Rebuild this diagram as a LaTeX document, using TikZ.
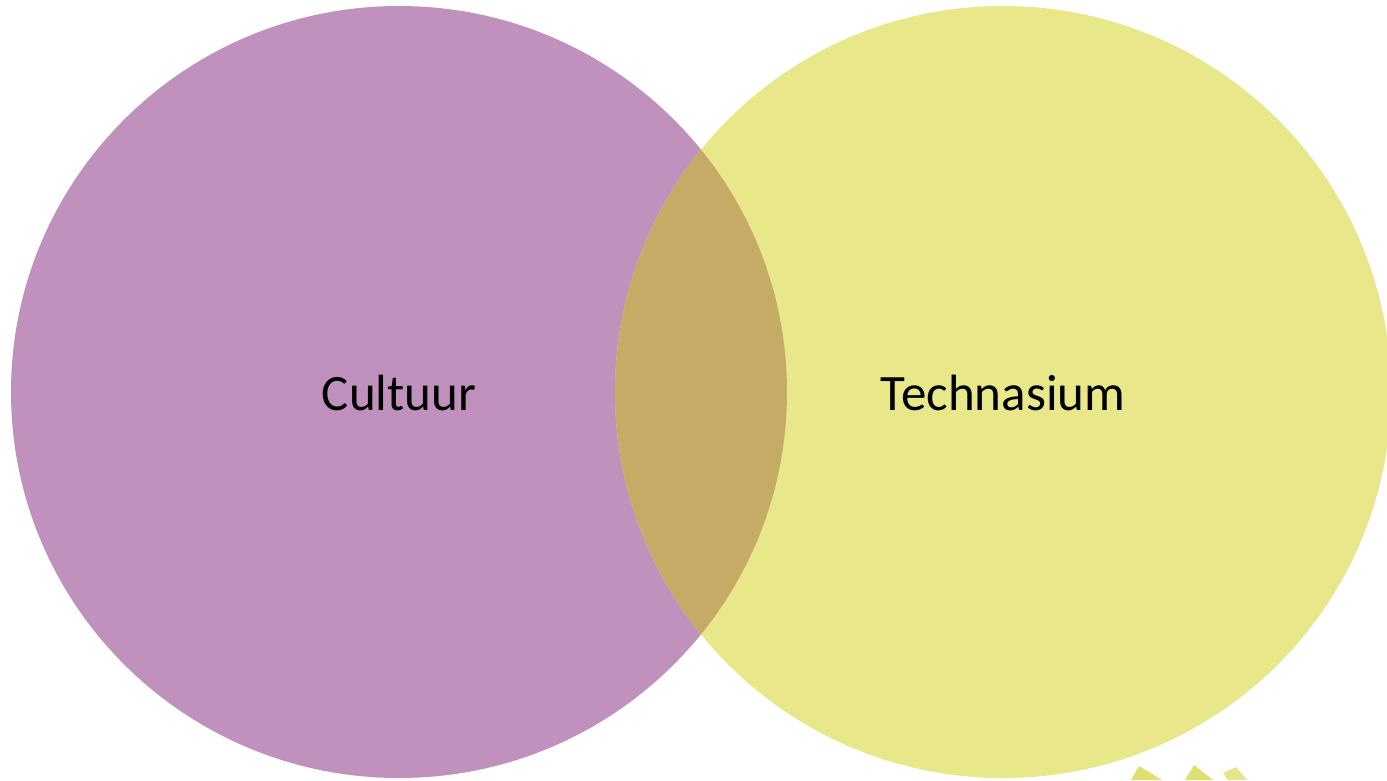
\documentclass[tikz,border=0pt]{standalone}
\usepackage{fontspec}
\setmainfont{Carlito}
\definecolor{cultuurfill}{HTML}{C191BD}
\definecolor{technafill}{HTML}{E8E88A}
\definecolor{overlapfill}{HTML}{C5AB66}
\definecolor{wedgeA}{HTML}{E0E070}
\definecolor{wedgeB}{HTML}{E6E688}
\tikzset{vennlabel/.style={font=\fontsize{51}{60}\selectfont,text=black,inner sep=0pt,anchor=center}}
\begin{document}
\begin{tikzpicture}[x=1pt,y=-1pt]
\useasboundingbox (0,0) rectangle (1387,780);
\clip (0,0) rectangle (1387,780);
\fill[wedgeA] (1139,766) -- (1162,780) -- (1131,780) -- cycle;
\fill[wedgeA] (1194,765) -- (1213,780) -- (1185,780) -- cycle;
\fill[wedgeB] (1223,773) -- (1236,767) -- (1247,780) -- (1228,780) -- cycle;
\fill[cultuurfill] (399,392) ellipse[x radius=388,y radius=386];
\fill[technafill] (1003,392) ellipse[x radius=388,y radius=386];
\begin{scope}
\clip (399,392) ellipse[x radius=388,y radius=386];
\fill[overlapfill] (1003,392) ellipse[x radius=388,y radius=386];
\end{scope}
\node[vennlabel] (cultuur) at (399,393) {Cultuur};
\node[vennlabel] (technasium) at (1003,393) {Technasium};
\end{tikzpicture}
\end{document}
